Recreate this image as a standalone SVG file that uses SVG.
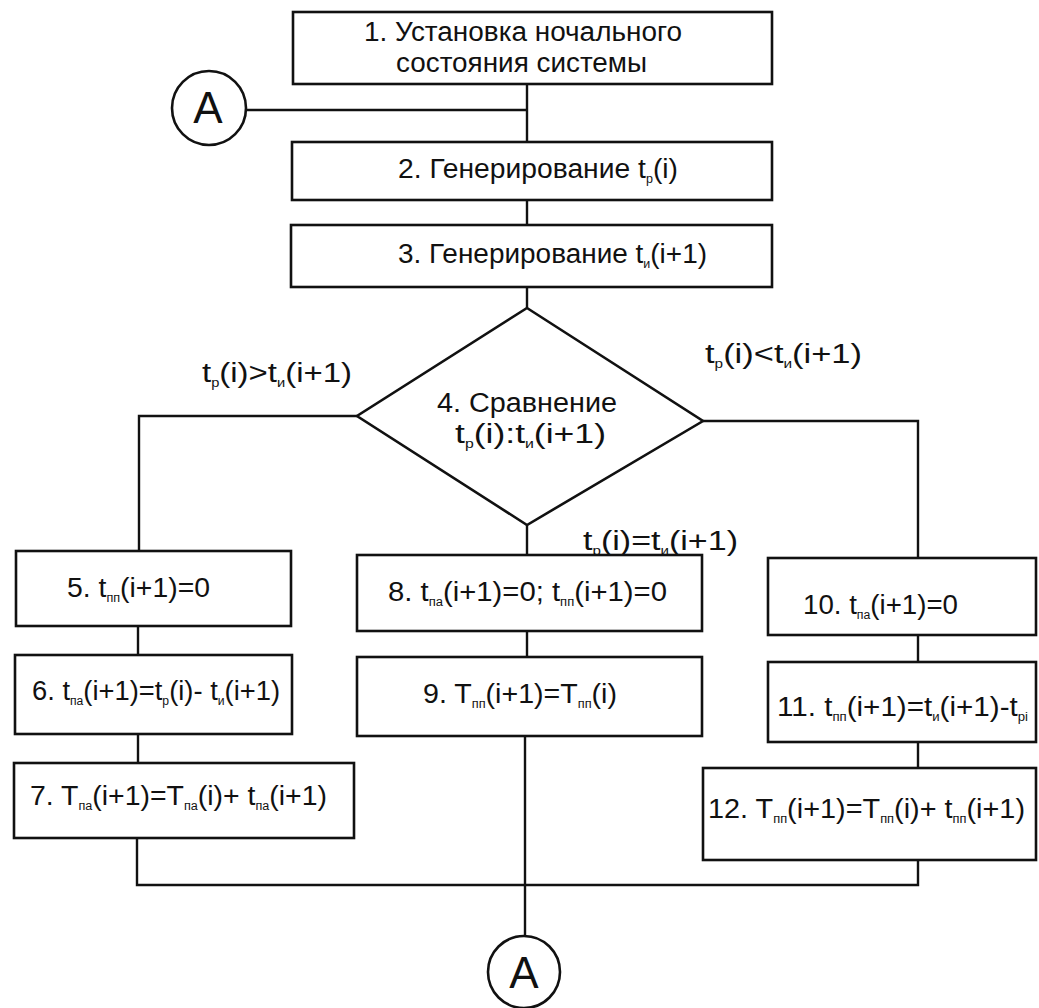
<svg xmlns="http://www.w3.org/2000/svg" width="1039" height="1008" viewBox="0 0 1039 1008">
<style>
.box{fill:#fff;stroke:#111;stroke-width:2.6}
.ln{fill:none;stroke:#111;stroke-width:2.4}
.t{font-family:"Liberation Sans",Arial,sans-serif;font-size:27px;fill:#111}
.s{font-size:12px}
.a{font-family:"Liberation Sans",Arial,sans-serif;font-size:44px;fill:#111;text-anchor:middle}
</style>
<rect width="1039" height="1008" fill="#fff"/>
<g id="connectors">
<polyline class="ln" points="527,84 527,142"/>
<polyline class="ln" points="246,110 527,110"/>
<polyline class="ln" points="527,200 527,225"/>
<polyline class="ln" points="527,287 527,308"/>
<polyline class="ln" points="357,416 139,416 139,551"/>
<polyline class="ln" points="703,421 918,421 918,558"/>
<polyline class="ln" points="527,525 527,555"/>
<polyline class="ln" points="138,626 138,655"/>
<polyline class="ln" points="138,734 138,763"/>
<polyline class="ln" points="527,631 527,657"/>
<polyline class="ln" points="918,635 918,662"/>
<polyline class="ln" points="918,742 918,768"/>
<polyline class="ln" points="137,838 137,885 918,885 918,860"/>
<polyline class="ln" points="525,736 525,936"/>
</g>
<g id="connA1"><circle class="box" cx="209" cy="108" r="37"/><text class="a" x="208" y="123">A</text></g>
<g id="node1"><rect class="box" x="293" y="12" width="479" height="72"/>
<text class="t" x="364" y="41" textLength="318" lengthAdjust="spacingAndGlyphs">1. Установка ночального</text>
<text class="t" x="396" y="72" textLength="251" lengthAdjust="spacingAndGlyphs">состояния системы</text></g>
<g id="node2"><rect class="box" x="292" y="142" width="480" height="58"/>
<text class="t" x="398" y="178" textLength="280" lengthAdjust="spacingAndGlyphs">2. Генерирование t<tspan class="s" dy="5">р</tspan><tspan dy="-5">(i)</tspan></text></g>
<g id="node3"><rect class="box" x="291" y="225" width="481" height="62"/>
<text class="t" x="398" y="263" textLength="309" lengthAdjust="spacingAndGlyphs">3. Генерирование t<tspan class="s" dy="5">и</tspan><tspan dy="-5">(i+1)</tspan></text></g>
<g id="node4"><polygon class="box" points="527,308 703,421 527,525 357,416"/>
<text class="t" x="437" y="412" textLength="180" lengthAdjust="spacingAndGlyphs">4. Сравнение</text>
<text class="t" x="455" y="443" textLength="151" lengthAdjust="spacingAndGlyphs">t<tspan class="s" dy="5">р</tspan><tspan dy="-5">(i):t</tspan><tspan class="s" dy="5">и</tspan><tspan dy="-5">(i+1)</tspan></text></g>
<g id="labels">
<text class="t" x="202" y="382" textLength="150" lengthAdjust="spacingAndGlyphs">t<tspan class="s" dy="5">р</tspan><tspan dy="-5">(i)&gt;t</tspan><tspan class="s" dy="5">и</tspan><tspan dy="-5">(i+1)</tspan></text>
<text class="t" x="705" y="363" textLength="157" lengthAdjust="spacingAndGlyphs">t<tspan class="s" dy="5">р</tspan><tspan dy="-5">(i)&lt;t</tspan><tspan class="s" dy="5">и</tspan><tspan dy="-5">(i+1)</tspan></text>
<text class="t" x="583" y="550" textLength="155" lengthAdjust="spacingAndGlyphs">t<tspan class="s" dy="5">р</tspan><tspan dy="-5">(i)=t</tspan><tspan class="s" dy="5">и</tspan><tspan dy="-5">(i+1)</tspan></text>
</g>
<g id="node5"><rect class="box" x="16" y="551" width="275" height="75"/>
<text class="t" x="67" y="597" textLength="143" lengthAdjust="spacingAndGlyphs">5. t<tspan class="s" dy="5">пп</tspan><tspan dy="-5">(i+1)=0</tspan></text></g>
<g id="node6"><rect class="box" x="15" y="655" width="277" height="79"/>
<text class="t" x="32" y="700" textLength="248" lengthAdjust="spacingAndGlyphs">6. t<tspan class="s" dy="5">па</tspan><tspan dy="-5">(i+1)=t</tspan><tspan class="s" dy="5">р</tspan><tspan dy="-5">(i)- t</tspan><tspan class="s" dy="5">и</tspan><tspan dy="-5">(i+1)</tspan></text></g>
<g id="node7"><rect class="box" x="14" y="763" width="340" height="75"/>
<text class="t" x="30" y="805" textLength="297" lengthAdjust="spacingAndGlyphs">7. T<tspan class="s" dy="5">па</tspan><tspan dy="-5">(i+1)=T</tspan><tspan class="s" dy="5">па</tspan><tspan dy="-5">(i)+ t</tspan><tspan class="s" dy="5">па</tspan><tspan dy="-5">(i+1)</tspan></text></g>
<g id="node8"><rect class="box" x="357" y="555" width="345" height="76"/>
<text class="t" x="388" y="601" textLength="279" lengthAdjust="spacingAndGlyphs">8. t<tspan class="s" dy="5">па</tspan><tspan dy="-5">(i+1)=0;  t</tspan><tspan class="s" dy="5">пп</tspan><tspan dy="-5">(i+1)=0</tspan></text></g>
<g id="node9"><rect class="box" x="357" y="657" width="345" height="79"/>
<text class="t" x="423" y="703" textLength="194" lengthAdjust="spacingAndGlyphs">9. T<tspan class="s" dy="5">пп</tspan><tspan dy="-5">(i+1)=T</tspan><tspan class="s" dy="5">пп</tspan><tspan dy="-5">(i)</tspan></text></g>
<g id="node10"><rect class="box" x="768" y="558" width="268" height="77"/>
<text class="t" x="803" y="614" textLength="155" lengthAdjust="spacingAndGlyphs">10. t<tspan class="s" dy="5">па</tspan><tspan dy="-5">(i+1)=0</tspan></text></g>
<g id="node11"><rect class="box" x="768" y="662" width="268" height="80"/>
<text class="t" x="777" y="716" textLength="251" lengthAdjust="spacingAndGlyphs">11. t<tspan class="s" dy="5">пп</tspan><tspan dy="-5">(i+1)=t</tspan><tspan class="s" dy="5">и</tspan><tspan dy="-5">(i+1)-t</tspan><tspan class="s" dy="5">рi</tspan></text></g>
<g id="node12"><rect class="box" x="703" y="768" width="333" height="92"/>
<text class="t" x="708" y="818" textLength="317" lengthAdjust="spacingAndGlyphs">12. T<tspan class="s" dy="5">пп</tspan><tspan dy="-5">(i+1)=T</tspan><tspan class="s" dy="5">пп</tspan><tspan dy="-5">(i)+ t</tspan><tspan class="s" dy="5">пп</tspan><tspan dy="-5">(i+1)</tspan></text></g>
<g id="connA2"><circle class="box" cx="524" cy="972" r="36"/><text class="a" x="524" y="988">A</text></g>
</svg>
